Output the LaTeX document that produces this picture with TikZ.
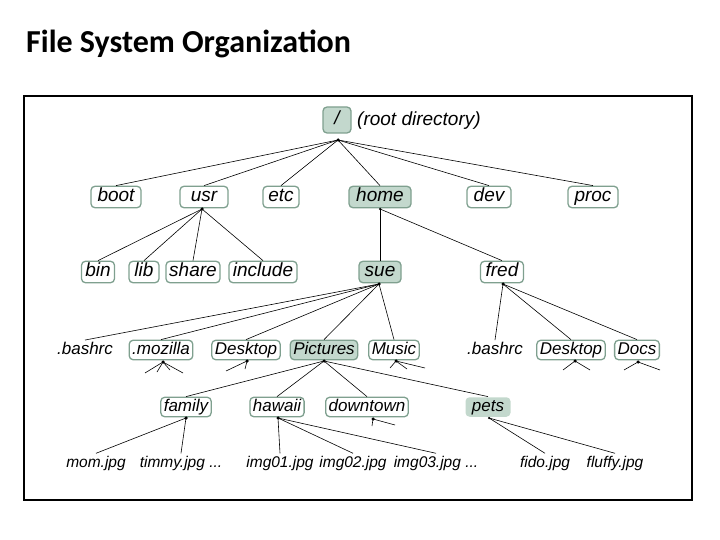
\documentclass[tikz,border=0pt]{standalone}
\usepackage{fontspec}
\setmainfont{Liberation Sans}
\newfontfamily\titlefont{Carlito}
\definecolor{bd}{HTML}{7FA08F}
\definecolor{fl}{HTML}{C3D8CD}
\begin{document}
\begin{tikzpicture}[x=1pt,y=-1pt,
  box/.style={draw=bd, line width=1.3pt, rounded corners=4pt, fill=white, inner xsep=3pt, inner ysep=2pt, text height=13.5pt, text depth=4pt, font=\itshape\fontsize{19}{21}\selectfont},
  sbox/.style={box, text height=12pt, text depth=3.5pt, font=\itshape\fontsize{17}{19}\selectfont},
  hl/.style={fill=fl},
  leaf/.style={inner xsep=1pt, inner ysep=2pt, text height=11.5pt, text depth=3.5pt, font=\itshape\fontsize{15.5}{17}\selectfont},
  bigleaf/.style={leaf, text height=12pt, font=\itshape\fontsize{17}{19}\selectfont},
  con/.style={line width=0.6pt},
  hubdot/.style={circle, fill=black, inner sep=0pt, minimum size=3.5pt}
]
\useasboundingbox (0,0) rectangle (720,540);
\node[anchor=west, inner sep=0pt, font=\titlefont\bfseries\fontsize{32}{35}\selectfont] (title) at (26,44) {File System Organization};
\draw[line width=2.5pt] (24,96) rectangle (692,500);

% root
\node[box, hl, minimum width=28pt, minimum height=26pt] (root) at (337,120) {/};
\node[anchor=west, inner sep=0pt, font=\itshape\fontsize{19}{21}\selectfont] (rootlbl) at (357,121) {(root directory)};

% level 1
\node[box, minimum width=50pt] (boot) at (116,197) {boot};
\node[box, minimum width=48pt] (usr) at (204,197) {usr};
\node[box, minimum width=36pt] (etc) at (281,197) {etc};
\node[box, hl, minimum width=62pt] (home) at (380,197) {home};
\node[box, minimum width=44pt] (dev) at (489,197) {dev};
\node[box, minimum width=50pt] (proc) at (593,197) {proc};

% level 2
\node[box, minimum width=33pt] (bin) at (98,272) {bin};
\node[box, minimum width=30pt] (lib) at (144,272) {lib};
\node[box, minimum width=54pt] (share) at (193,272) {share};
\node[box, minimum width=68pt] (include) at (263,272) {include};
\node[box, hl, minimum width=42pt] (sue) at (380,272) {sue};
\node[box, minimum width=43pt] (fred) at (502,272) {fred};

% level 3
\node[bigleaf] (bashrcA) at (85,350) {.bashrc};
\node[sbox] (mozilla) at (161,350) {.mozilla};
\node[sbox] (deskA) at (246,350) {Desktop};
\node[sbox, hl] (pictures) at (324,350) {Pictures};
\node[sbox] (music) at (394,350) {Music};
\node[bigleaf] (bashrcB) at (495,350) {.bashrc};
\node[sbox] (deskB) at (571,350) {Desktop};
\node[sbox] (docs) at (637,350) {Docs};

% level 4
\node[sbox] (family) at (186,407) {family};
\node[sbox] (hawaii) at (277,407) {hawaii};
\node[sbox] (downtown) at (367,407) {downtown};
\node[sbox, hl, draw=none, minimum width=45pt] (pets) at (488,407) {pets};

% leaves
\node[leaf] (mom) at (96,463) {mom.jpg};
\node[leaf] (timmy) at (181,463) {timmy.jpg ...};
\node[leaf] (imgA) at (280,463) {img01.jpg};
\node[leaf] (imgB) at (353,463) {img02.jpg};
\node[leaf] (imgC) at (436,463) {img03.jpg ...};
\node[leaf] (fido) at (545,463) {fido.jpg};
\node[leaf] (fluffy) at (615,463) {fluffy.jpg};

% hubs
\node[hubdot] (rh) at (338,140) {};
\node[hubdot] (usrh) at (202,209) {};
\node[hubdot, minimum size=2.5pt] (homeh) at (380,209) {};
\node[hubdot] (sueh) at (379,284) {};
\node[hubdot] (fredh) at (503,284) {};
\node[hubdot] (mozh) at (163,362) {};
\node[hubdot] (deskAh) at (247,361) {};
\node[hubdot] (pich) at (324,361) {};
\node[hubdot] (mush) at (396,361) {};
\node[hubdot] (deskBh) at (575,361) {};
\node[hubdot] (docsh) at (638,362) {};
\node[hubdot] (famh) at (186,418) {};
\node[hubdot] (hawh) at (278,418) {};
\node[hubdot] (downh) at (373,419) {};
\node[hubdot, minimum size=2.5pt] (petsh) at (489,418) {};

% stub ends
\coordinate (m1) at (145,373);
\coordinate (m2) at (157,372);
\coordinate (m3) at (170,370);
\coordinate (m4) at (183,373);
\coordinate (d1) at (226,371);
\coordinate (d2) at (245,369);
\coordinate (u1) at (390,368);
\coordinate (u2) at (407,369);
\coordinate (u3) at (425,368);
\coordinate (f1) at (563,370);
\coordinate (f2) at (590,370);
\coordinate (o1) at (624,370);
\coordinate (o2) at (660,370);
\coordinate (w1) at (372,426);
\coordinate (w2) at (395,425);

% connectors
\foreach \n in {boot,usr,etc,home,dev,proc} \draw[con] (rh.center) -- (\n.north);
\foreach \n in {bin,lib,share,include} \draw[con] (usrh.center) -- (\n.north);
\foreach \n in {sue,fred} \draw[con] (homeh.center) -- (\n.north);
\foreach \n in {bashrcA,mozilla,deskA,pictures,music} \draw[con] (sueh.center) -- (\n.north);
\foreach \n in {bashrcB,deskB,docs} \draw[con] (fredh.center) -- (\n.north);
\foreach \n in {family,hawaii,downtown,pets} \draw[con] (pich.center) -- (\n.north);
\foreach \n in {mom,timmy} \draw[con] (famh.center) -- (\n.north);
\foreach \n in {imgA,imgB,imgC} \draw[con] (hawh.center) -- (\n.north);
\foreach \n in {fido,fluffy} \draw[con] (petsh.center) -- (\n.north);
\foreach \c in {m1,m2,m3,m4} \draw[con] (mozh.center) -- (\c);
\foreach \c in {d1,d2} \draw[con] (deskAh.center) -- (\c);
\foreach \c in {u1,u2,u3} \draw[con] (mush.center) -- (\c);
\foreach \c in {f1,f2} \draw[con] (deskBh.center) -- (\c);
\foreach \c in {o1,o2} \draw[con] (docsh.center) -- (\c);
\foreach \c in {w1,w2} \draw[con] (downh.center) -- (\c);
\end{tikzpicture}
\end{document}
